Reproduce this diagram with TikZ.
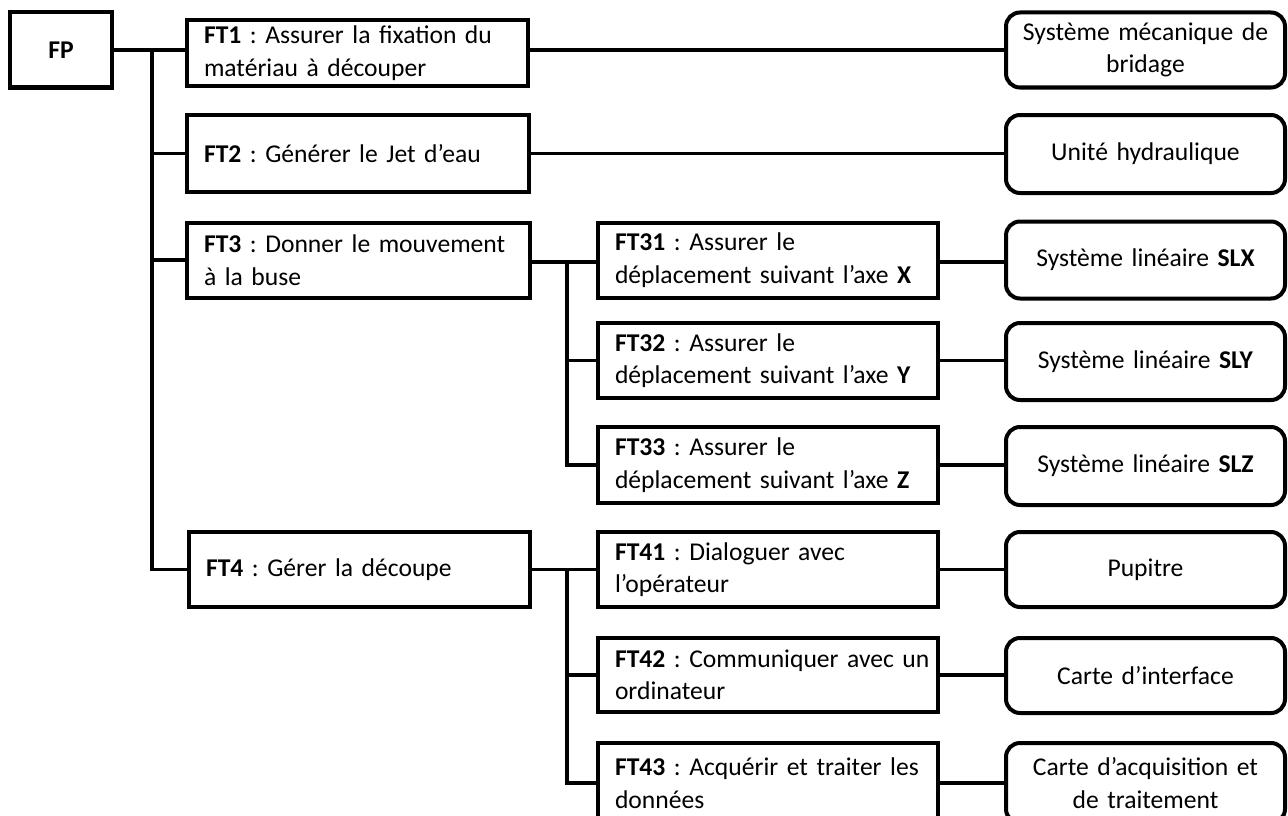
\documentclass[tikz,border=0pt]{standalone}
\usepackage{fontspec}
\setmainfont{Carlito}
\begin{document}
\begin{tikzpicture}[x=1pt,y=-1pt,
  txt/.style={font=\fontsize{25.6}{32.5}\selectfont,
     execute at begin node={\frenchspacing\hyphenpenalty=10000\exhyphenpenalty=10000\hfuzz=20pt}},
  lbox/.style={txt, draw, line width=4pt, rectangle, inner sep=0pt, outer sep=0pt, align=left,
     minimum width=#1, text width=#1-34pt},
  rbox/.style={txt, draw, line width=4pt, rounded corners=14pt, inner sep=0pt, outer sep=0pt, align=center,
     minimum width=279pt, text width=272pt},
  conn/.style={line width=3.3pt}]
\useasboundingbox (0,0) rectangle (1288,816);

% root
\node[txt, draw, line width=4pt, inner sep=0pt, outer sep=0pt, minimum width=102pt, minimum height=75pt] (FP) at (61,50) {\textbf{FP}};

% level 1
\node[lbox=341pt, minimum height=66pt] (FT1) at (357.5,53) {\mbox{\textbf{FT1} : Assurer la fixation du}\\matériau à découper};
\node[lbox=342pt, minimum height=77pt] (FT2) at (358,153.5) {\textbf{FT2} : Générer le Jet d’eau};
\node[lbox=343pt, minimum height=75pt] (FT3) at (358.5,260) {\mbox{\textbf{FT3} : Donner le mouvement}\\à la buse};
\node[lbox=341pt, minimum height=75pt] (FT4) at (359.5,569.5) {\textbf{FT4} : Gérer la découpe};

% level 2
\node[lbox=340pt, minimum height=75pt] (FT31) at (768,260) {\textbf{FT31} : Assurer le\\\mbox{déplacement suivant l’axe \textbf{X}}};
\node[lbox=340pt, minimum height=75pt] (FT32) at (768,360.5) {\textbf{FT32} : Assurer le\\\mbox{déplacement suivant l’axe \textbf{Y}}};
\node[lbox=340pt, minimum height=76pt] (FT33) at (768,465) {\textbf{FT33} : Assurer le\\\mbox{déplacement suivant l’axe \textbf{Z}}};
\node[lbox=340pt, minimum height=75pt] (FT41) at (768,569.5) {\textbf{FT41} : Dialoguer avec\\l’opérateur};
\node[lbox=340pt, minimum height=74pt] (FT42) at (768,675) {\mbox{\textbf{FT42} : Communiquer avec un}\\ordinateur};
\node[lbox=340pt, minimum height=80pt] (FT43) at (768,783) {\mbox{\textbf{FT43} : Acquérir et traiter les}\\données};

% solutions
\node[rbox, minimum height=75pt] (R1) at (1145.5,50) {Système mécanique de\\bridage};
\node[rbox, minimum height=78pt] (R2) at (1145.5,154) {Unité hydraulique};
\node[rbox, minimum height=77pt] (R3) at (1145.5,260) {Système linéaire \textbf{SLX}};
\node[rbox, minimum height=77pt] (R4) at (1145.5,361.5) {Système linéaire \textbf{SLY}};
\node[rbox, minimum height=78pt] (R5) at (1145.5,466) {Système linéaire \textbf{SLZ}};
\node[rbox, minimum height=75pt] (R6) at (1145.5,569.5) {Pupitre};
\node[rbox, minimum height=75pt] (R7) at (1145.5,675.5) {Carte d’interface};
\node[rbox, minimum height=80pt] (R8) at (1145.5,783) {Carte d’acquisition et\\de traitement};

% main trunk
\coordinate (T) at (152,50);
\draw[conn] (FP.east) -- (FT1.west |- FP.east);
\draw[conn] (T) |- (FT4.west);
\draw[conn] (T |- FT2.west) -- (FT2.west);
\draw[conn] (T |- FT3.west) -- (FT3.west);

% FT3 subtree
\coordinate (S3) at (567,262);
\draw[conn] (FT3.east |- S3) -- (FT31.west |- S3);
\draw[conn] (S3) |- (FT33.west);
\draw[conn] (S3 |- FT32.west) -- (FT32.west);

% FT4 subtree
\coordinate (S4) at (567,569.5);
\draw[conn] (FT4.east) -- (FT41.west);
\draw[conn] (S4) |- (FT43.west);
\draw[conn] (S4 |- FT42.west) -- (FT42.west);

% to solutions
\draw[conn] (FT1.east |- R1.west) -- (R1.west);
\draw[conn] (FT2.east) -- (R2.west |- FT2.east);
\draw[conn] (FT31.east |- S3) -- (R3.west |- S3);
\draw[conn] (FT32.east) -- (R4.west |- FT32.east);
\draw[conn] (FT33.east) -- (R5.west |- FT33.east);
\draw[conn] (FT41.east) -- (R6.west);
\draw[conn] (FT42.east) -- (R7.west |- FT42.east);
\draw[conn] (FT43.east) -- (R8.west);
\end{tikzpicture}
\end{document}
